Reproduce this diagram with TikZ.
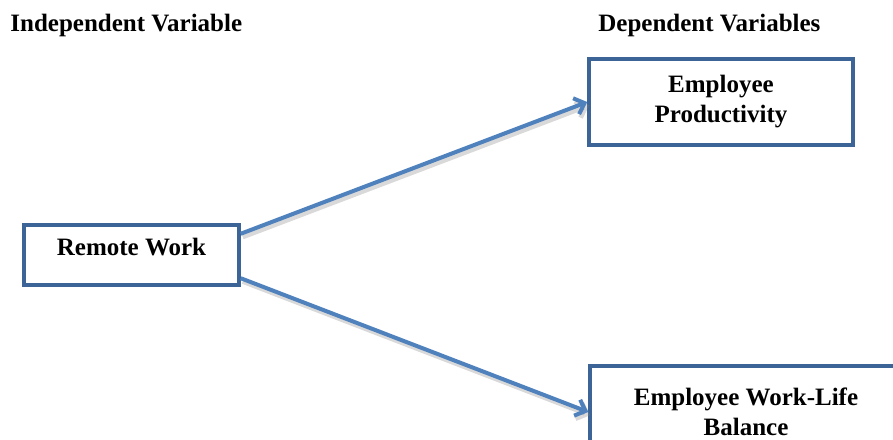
\documentclass[tikz,border=0pt]{standalone}
\usepackage{fontspec}
\setmainfont{Liberation Serif}
\usepackage{tikz}
\usetikzlibrary{positioning}
\usetikzlibrary{calc}
\usetikzlibrary{arrows.meta}
\definecolor{boxline}{HTML}{3C6496}
\definecolor{arrowline}{HTML}{4F81BD}
\newcommand{\varfont}{\fontsize{12.5}{15}\selectfont\bfseries}
\tikzstyle{block} = [draw=boxline, line width=1.75pt, rectangle, fill=white, align=center, font=\varfont]
\tikzstyle{heading} = [anchor=base west, inner sep=0pt, font=\varfont]
\tikzstyle{link} = [draw=arrowline, line width=2pt, -{Straight Barb[length=4.5pt,width=8.5pt]},
  preaction={draw=black!50, line width=2.4pt, opacity=.3, transform canvas={shift={(1pt,-1.6pt)}}}]

\begin{document}
\begin{tikzpicture}[x=0.5pt,y=-0.5pt]
    \clip (0,0) rectangle (893,439);
    \node [heading] (indep) at (10,32) {Independent Variable};
    \node [heading] (dep) at (598,32) {Dependent Variables};
    \node [block, minimum width=107.5pt, minimum height=30pt, text depth=8pt] (remote) at (131.5,255) {Remote Work};
    \node [block, minimum width=132pt, minimum height=43pt] (prod) at (721,102) {Employee\\Productivity};
    \node [block, minimum width=156pt, minimum height=46pt] (balance) at (746,412) {Employee Work-Life\\Balance};

    \draw [link] (remote.11) -- (prod.west);
    \draw [link] (remote.-12) -- (balance.west);
\end{tikzpicture}
\end{document}
